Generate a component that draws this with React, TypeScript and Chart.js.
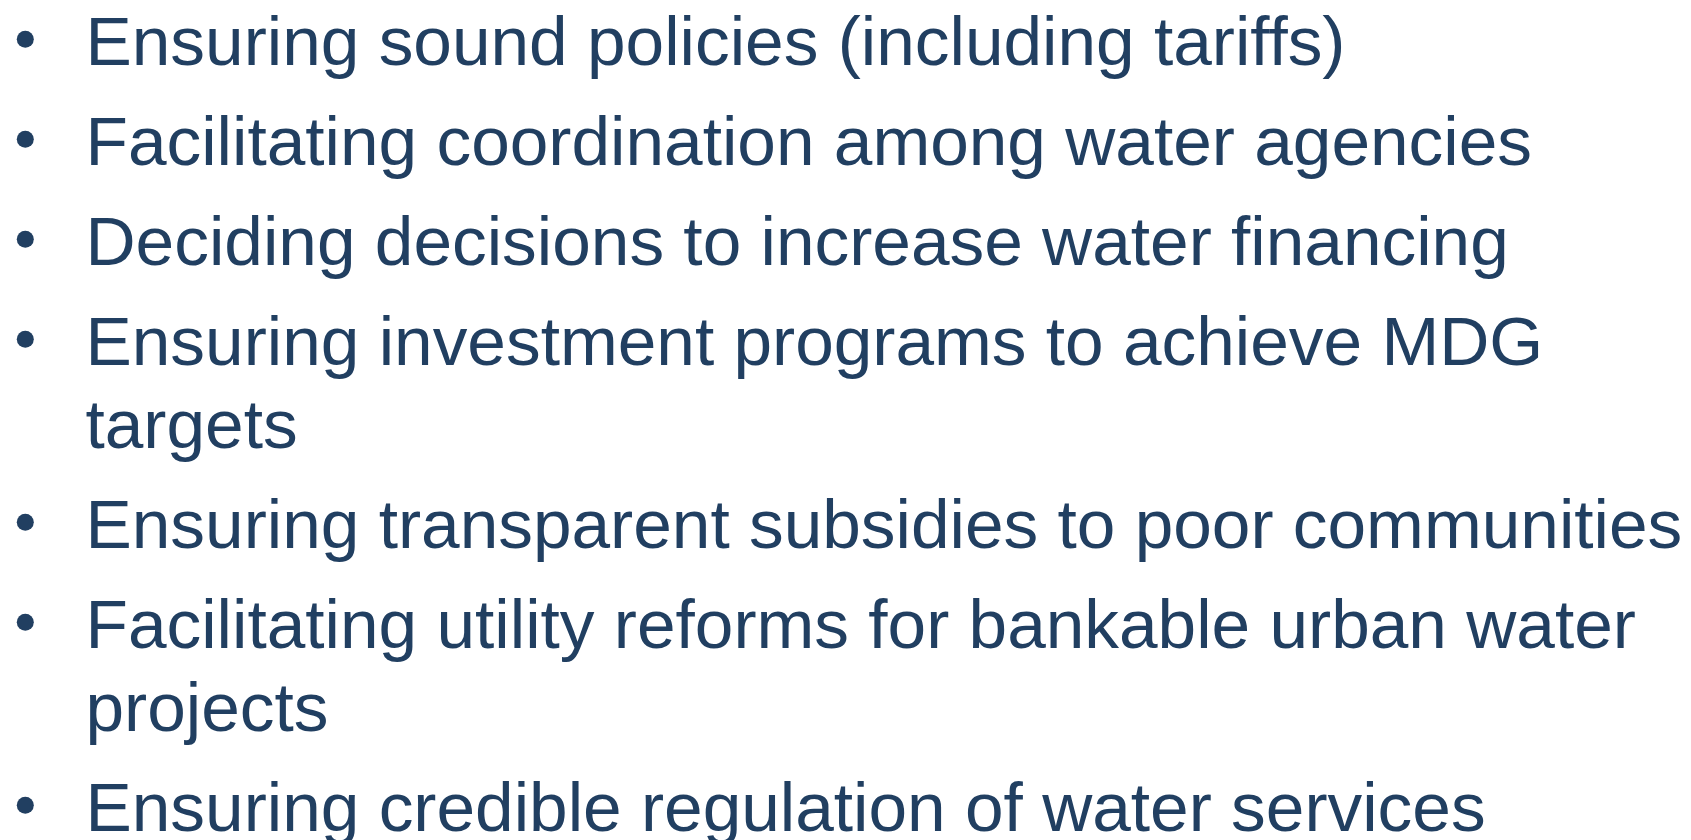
import React, { useEffect, useRef } from "react";
import { Chart, registerables } from "chart.js";

Chart.register(...registerables);

// Each bullet item, split into its displayed lines
const items: string[][] = [
  ["Ensuring sound policies (including tariffs)"],
  ["Facilitating coordination among water agencies"],
  ["Deciding decisions to increase water financing"],
  ["Ensuring investment programs to achieve MDG", "targets"],
  ["Ensuring transparent subsidies to poor communities"],
  ["Facilitating utility reforms for bankable urban water", "projects"],
  ["Ensuring credible regulation of water services"],
];

const W = 1691;
const H = 840;
const TEXT_COLOR = "#213f61";
const FONT = "69.4px 'Liberation Sans', Arial, Helvetica, sans-serif";

const bulletPlugin = {
  id: "bulletList",
  afterDraw(chart: any) {
    const ctx: CanvasRenderingContext2D = chart.ctx;
    const xs = chart.scales.x;
    const ys = chart.scales.y;
    const textX = xs.getPixelForValue(85.5);
    const bulletX = xs.getPixelForValue(25.3);
    ctx.save();
    ctx.font = FONT;
    ctx.fillStyle = TEXT_COLOR;
    ctx.textBaseline = "alphabetic";
    ctx.textAlign = "left";
    let baseline = 65;
    items.forEach((lines) => {
      ctx.beginPath();
      ctx.arc(bulletX, ys.getPixelForValue(baseline - 25.7), 8.5, 0, Math.PI * 2);
      ctx.fill();
      lines.forEach((ln, i) => {
        if (i > 0) baseline += 83;
        ctx.fillText(ln, textX, ys.getPixelForValue(baseline));
      });
      baseline += 100;
    });
    ctx.restore();
  },
};

export default function App() {
  const ref = useRef<HTMLCanvasElement | null>(null);
  useEffect(() => {
    if (!ref.current) return;
    const chart = new Chart(ref.current, {
      type: "scatter",
      data: { datasets: [] },
      options: {
        animation: false,
        responsive: false,
        maintainAspectRatio: false,
        layout: { padding: 0 },
        plugins: { legend: { display: false }, tooltip: { enabled: false }, title: { display: false } },
        scales: {
          x: { type: "linear", min: 0, max: W, display: false },
          y: { type: "linear", min: 0, max: H, reverse: true, display: false },
        },
      },
      plugins: [bulletPlugin],
    });
    return () => chart.destroy();
  }, []);
  return (
    <div style={{ position: "fixed", left: 0, top: 0, width: W, height: H, background: "#ffffff" }}>
      <canvas ref={ref} width={W} height={H} style={{ display: "block", width: W, height: H }} />
    </div>
  );
}
